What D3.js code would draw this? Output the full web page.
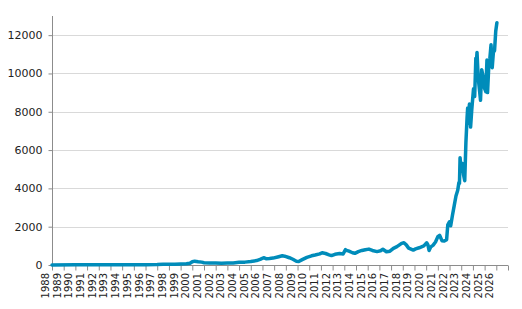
<!DOCTYPE html>
<html><head><meta charset="utf-8">
<script src="https://cdn.jsdelivr.net/npm/d3@7/dist/d3.min.js"></script>
<style>body{margin:0;background:#fff}svg{display:block}</style>
</head><body><svg id="c" width="522" height="309"></svg>
<script>
const years = [1988,1990,1992,1994,1996,1997,1997.5,1998,1998.5,1999,1999.5,1999.8,2000,2000.2,2000.5,2000.8,2001,2001.5,2002,2002.5,2003,2003.5,2004,2004.5,2005,2005.5,2005.8,2006.1,2006.3,2006.6,2006.9,2007.3,2007.7,2007.9,2008.3,2008.6,2008.9,2009.1,2009.4,2009.8,2010.2,2010.5,2010.9,2011.1,2011.4,2011.7,2011.9,2012.2,2012.6,2012.9,2013.1,2013.2,2013.4,2013.7,2013.9,2014.2,2014.5,2014.8,2015.1,2015.4,2015.8,2016.1,2016.3,2016.6,2016.9,2017.2,2017.5,2017.9,2018.1,2018.3,2018.5,2018.9,2019.1,2019.4,2019.6,2019.8,2020.05,2020.15,2020.25,2020.4,2020.6,2020.8,2021,2021.15,2021.35,2021.55,2021.75,2021.85,2022,2022.1,2022.25,2022.4,2022.55,2022.7,2022.8,2022.85,2022.9,2023,2023.1,2023.2,2023.3,2023.4,2023.5,2023.55,2023.6,2023.7,2023.8,2023.9,2024.05,2024.15,2024.25,2024.3,2024.35,2024.45,2024.55,2024.65,2024.75,2024.85,2024.95,2025.1,2025.2,2025.25,2025.35,2025.45,2025.55,2025.65,2025.75,2025.85,2025.95,2026.05];
const values = [5,8,10,12,15,20,35,40,45,50,60,90,170,200,170,150,120,100,110,90,100,110,140,150,180,230,290,380,330,340,360,420,480,460,380,300,200,180,280,400,480,520,580,640,600,530,490,560,600,580,800,760,720,640,610,700,760,800,830,760,700,740,820,690,720,870,960,1130,1160,1050,880,780,840,900,950,1000,1160,1050,760,950,1040,1200,1480,1550,1270,1250,1320,2100,2260,2050,2600,3100,3600,3900,4300,4260,5600,4900,5300,4700,4400,6400,7700,8200,7400,8400,7200,8100,9200,8800,10800,10600,11100,9800,9200,8600,10200,9900,9300,9050,10700,9000,10300,10800,11500,10300,11100,11200,12200,12650];
const tickYears = d3.range(1988, 2027);
const yTicks = [0,2000,4000,6000,8000,10000,12000];

const svg = d3.select("#c");
const x = d3.scaleLinear().domain([1988, 2027]).range([52, 508]);
const y = d3.scaleLinear().domain([0, 13000]).range([265, 16]);

// gridlines
svg.append("g").selectAll("line").data(yTicks.slice(1)).join("line")
  .attr("x1", 52).attr("x2", 508)
  .attr("y1", d => Math.round(y(d)) + 0.5).attr("y2", d => Math.round(y(d)) + 0.5)
  .attr("stroke", "#d9d9d9");

// y axis
const ya = svg.append("g").attr("transform", "translate(52.5,0)")
  .call(d3.axisLeft(y).tickValues(yTicks).tickSize(4).tickPadding(6).tickFormat(d3.format("d")));
ya.select(".domain").attr("stroke", "#8c8c8c").attr("d", "M0,16V265");
ya.selectAll(".tick line").attr("stroke", "#8c8c8c");
ya.selectAll("text").attr("font-family", "DejaVu Sans, Verdana, sans-serif").attr("font-size", 11).attr("fill", "#222");

// x axis
const xa = svg.append("g").attr("transform", "translate(0,265.5)")
  .call(d3.axisBottom(x).tickValues(d3.range(1988, 2028)).tickSize(5).tickFormat(""));
xa.select(".domain").attr("stroke", "#8c8c8c").attr("d", "M52,0H508");
xa.selectAll(".tick line").attr("stroke", "#8c8c8c");

svg.append("g").selectAll("text").data(tickYears).join("text")
  .attr("transform", d => `translate(${x(d) - 3},273) rotate(-90)`)
  .attr("text-anchor", "end")
  .attr("font-family", "DejaVu Sans, Verdana, sans-serif").attr("font-size", 10)
  .attr("fill", "#222")
  .text(d => d);

// line
const pts = years.map((d, i) => [d, values[i]]);
svg.append("path").datum(pts)
  .attr("fill", "none").attr("stroke", "#008cba").attr("stroke-width", 3.5)
  .attr("stroke-linejoin", "round").attr("stroke-linecap", "round")
  .attr("d", d3.line().x(d => x(d[0])).y(d => y(d[1])));
</script></body></html>
